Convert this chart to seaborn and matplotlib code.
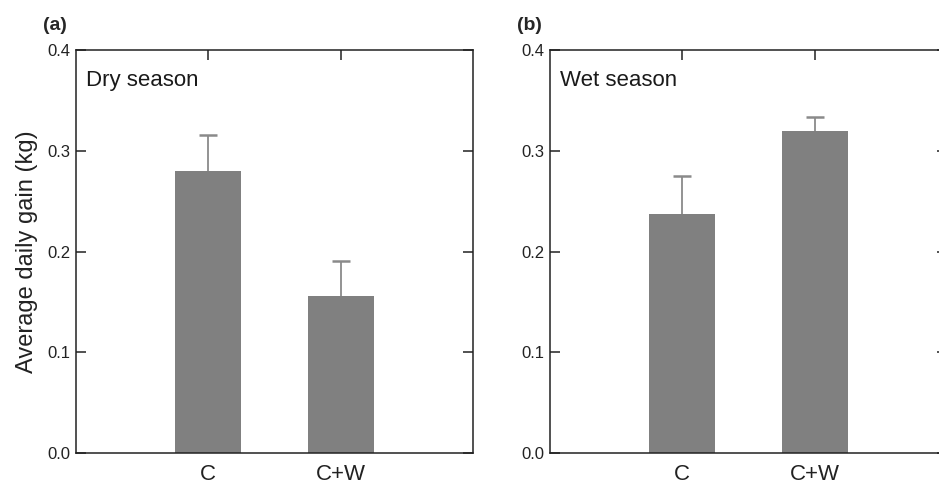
import matplotlib
matplotlib.use("Agg")
import matplotlib.pyplot as plt
import seaborn as sns
import pandas as pd

# Données
traitements = ["C", "C+W"]
gain_sec = [0.280, 0.156]
err_sec = [0.036, 0.035]
gain_humide = [0.237, 0.320]
err_humide = [0.038, 0.014]
saisons = ["Dry season", "Wet season"]
panneaux = ["(a)", "(b)"]
yticks = [0.0, 0.1, 0.2, 0.3, 0.4]

sns.set_style("white")
plt.rcParams['font.family'] = ['Liberation Sans', 'DejaVu Sans']

fig = plt.figure(figsize=(9.39, 4.86), dpi=100)
positions = [[0.0809, 0.0679, 0.4228, 0.829], [0.5857, 0.0679, 0.4228, 0.829]]

for i, (gains, errs) in enumerate([(gain_sec, err_sec), (gain_humide, err_humide)]):
    ax = fig.add_axes(positions[i])
    df = pd.DataFrame({"traitement": traitements, "gain": gains})
    sns.barplot(data=df, x="traitement", y="gain", color="#808080", saturation=1,
                width=0.5, errorbar=None, linewidth=0, ax=ax)
    # Barres d'erreur (seulement vers le haut)
    xs = list(range(len(traitements)))
    hauts = [g + e for g, e in zip(gains, errs)]
    ax.vlines(xs, gains, hauts, color="#8a8a8a", linewidth=1.3)
    ax.hlines(hauts, [x - 0.068 for x in xs], [x + 0.068 for x in xs],
              color="#8a8a8a", linewidth=1.8)
    ax.set_xlim(-1, 2)
    ax.set_ylim(0, 0.4)
    ax.set_yticks(yticks)
    ax.set_yticklabels([f"{v:.1f}" for v in yticks], fontsize=12, color="#333333")
    ax.tick_params(axis="x", labelsize=16, direction="in", top=True, bottom=True,
                   length=7, width=1.1, pad=8, colors="#222222")
    ax.tick_params(axis="y", direction="in", left=True, right=True, length=7,
                   width=1.1, pad=4, colors="#222222")
    for s in ax.spines.values():
        s.set_visible(True)
        s.set_linewidth(1.1)
        s.set_color("#222222")
    ax.set_xlabel("")
    ax.set_ylabel("")
    ax.text(0.025, 0.925, saisons[i], transform=ax.transAxes, fontsize=16,
            ha="left", va="center", color="#1a1a1a")

fig.axes[0].set_ylabel("Average daily gain (kg)", fontsize=17, color="#222222", labelpad=7)
fig.text(43 / 939, 1 - 25 / 486, panneaux[0], fontsize=14, fontweight="bold",
         ha="left", va="center")
fig.text(517 / 939, 1 - 25 / 486, panneaux[1], fontsize=14, fontweight="bold",
         ha="left", va="center")

fig.savefig("out.png", dpi=100)
